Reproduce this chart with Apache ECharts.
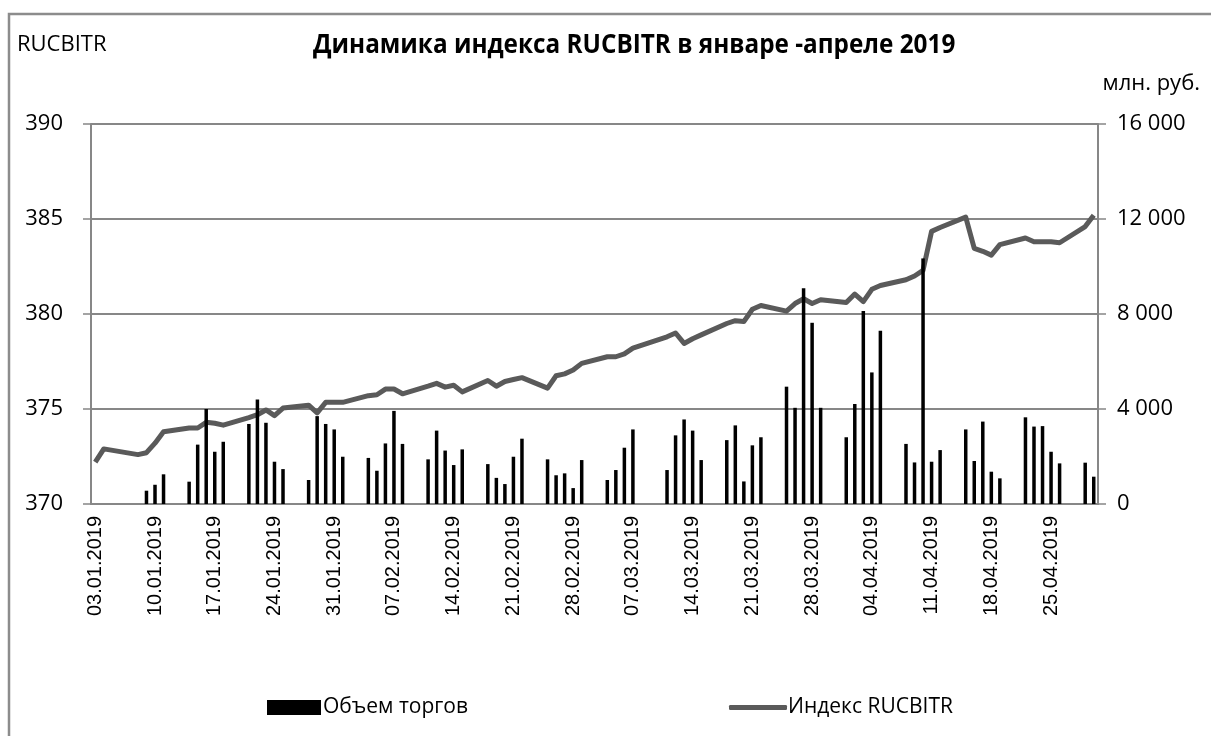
<!DOCTYPE html>
<html>
<head>
<meta charset="utf-8">
<title>RUCBITR</title>
<script src="https://cdn.jsdelivr.net/npm/echarts@6/dist/echarts.min.js"></script>
<style>
  html, body { margin: 0; background: #fff; }
  #chart { width: 1211px; height: 736px; }
</style>
</head>
<body>
<div id="chart"></div>
<script>
  // trading days (dd.mm of 2019)
  const tradeDates = [
    '03.01', '04.01', '08.01', '09.01', '10.01', '11.01', '14.01', '15.01', '16.01', '17.01', '18.01',
    '21.01', '22.01', '23.01', '24.01', '25.01', '28.01', '29.01', '30.01', '31.01',
    '01.02', '04.02', '05.02', '06.02', '07.02', '08.02', '11.02', '12.02', '13.02', '14.02', '15.02',
    '18.02', '19.02', '20.02', '21.02', '22.02', '25.02', '26.02', '27.02', '28.02',
    '01.03', '04.03', '05.03', '06.03', '07.03', '11.03', '12.03', '13.03', '14.03', '15.03',
    '18.03', '19.03', '20.03', '21.03', '22.03', '25.03', '26.03', '27.03', '28.03', '29.03',
    '01.04', '02.04', '03.04', '04.04', '05.04', '08.04', '09.04', '10.04', '11.04', '12.04',
    '15.04', '16.04', '17.04', '18.04', '19.04', '22.04', '23.04', '24.04', '25.04', '26.04', '29.04', '30.04'
  ];

  // RUCBITR index, left axis
  const indexValues = [
    372.2, 372.9, 372.6, 372.7, 373.2, 373.8, 374.0, 374.0, 374.3, 374.25, 374.15,
    374.55, 374.7, 374.95, 374.65, 375.05, 375.2, 374.8, 375.35, 375.35,
    375.35, 375.7, 375.75, 376.05, 376.05, 375.8, 376.2, 376.35, 376.15, 376.25, 375.9,
    376.5, 376.2, 376.45, 376.55, 376.65, 376.1, 376.75, 376.85, 377.05,
    377.4, 377.75, 377.75, 377.9, 378.2, 378.8, 379.0, 378.45, 378.7, 378.9,
    379.5, 379.65, 379.6, 380.25, 380.45, 380.15, 380.55, 380.8, 380.55, 380.75,
    380.6, 381.05, 380.65, 381.3, 381.5, 381.8, 382.0, 382.3, 384.35, 384.55,
    385.1, 383.45, 383.3, 383.1, 383.65, 384.0, 383.8, 383.8, 383.8, 383.75, 384.6, 385.2
  ];

  // trading volume, mln rub, right axis
  const volumeValues = [
    null, null, null, 560, 810, 1250, 940, 2500, 4000, 2200, 2620,
    3370, 4400, 3420, 1780, 1470, 1010, 3700, 3370, 3140,
    1990, 1940, 1400, 2550, 3920, 2530, 1880, 3090, 2250, 1640, 2300,
    1680, 1100, 840, 1990, 2750, 1880, 1210, 1290, 670,
    1850, 1010, 1430, 2370, 3140, 1430, 2890, 3560, 3090, 1850,
    2690, 3310, 950, 2470, 2810, 4940, 4050, 9080, 7630, 4050,
    2810, 4210, 8130, 5540, 7300, 2530, 1750, 10340, 1780, 2270,
    3140, 1810, 3470, 1360, 1080, 3650, 3260, 3280, 2200, 1710, 1740, 1150
  ];

  const seriesNames = ['Объем торгов', 'Индекс RUCBITR'];

  // calendar axis: every day from 03.01.2019 to 30.04.2019
  const calendar = [];
  for (let d = new Date(Date.UTC(2019, 0, 3)); d <= new Date(Date.UTC(2019, 3, 30)); d.setUTCDate(d.getUTCDate() + 1)) {
    const dd = String(d.getUTCDate()).padStart(2, '0');
    const mm = String(d.getUTCMonth() + 1).padStart(2, '0');
    calendar.push(dd + '.' + mm + '.2019');
  }

  const byDay = (values) => calendar.map(day => {
    const i = tradeDates.indexOf(day.substring(0, 5));
    return i < 0 ? null : values[i];
  });

  const gray = '#878787';
  const lineGray = '#5a5a5a';
  const font = "'Open Sans', sans-serif";

  const chart = echarts.init(document.getElementById('chart'));
  chart.setOption({
    animation: false,
    backgroundColor: '#fff',
    grid: { left: 91, right: 113, top: 124, bottom: 232 },
    graphic: [
      {
        type: 'rect', silent: true,
        shape: { x: 9, y: 14, width: 1230, height: 740 },
        style: { fill: 'none', stroke: '#8c8c8c', lineWidth: 2.5 }
      },
      {
        type: 'text', x: 313, y: 45, scaleX: 0.9,
        style: {
          text: 'Динамика индекса RUCBITR в январе -апреле 2019',
          font: 'bold 27px ' + font, fill: '#000', verticalAlign: 'middle'
        }
      },
      {
        type: 'text', left: 17, top: 34,
        style: { text: 'RUCBITR', font: '22px ' + font, fill: '#000' }
      },
      {
        type: 'text', right: 11, top: 73,
        style: { text: 'млн. руб.', font: '22px ' + font, fill: '#000' }
      }
    ],
    legend: [
      {
        data: [seriesNames[0]], left: 262, top: 692, icon: 'rect',
        itemWidth: 54, itemHeight: 15, itemGap: 4,
        textStyle: { fontFamily: font, fontSize: 21, color: '#000', padding: [0, 0, 0, -3] }
      },
      {
        data: [{ name: seriesNames[1], icon: 'roundRect' }], left: 724, top: 692,
        itemWidth: 58, itemHeight: 5,
        itemStyle: { color: lineGray },
        textStyle: { fontFamily: font, fontSize: 21, color: '#000', padding: [0, 0, 0, -4] }
      }
    ],
    xAxis: {
      type: 'category',
      data: calendar,
      boundaryGap: true,
      axisLine: { lineStyle: { color: gray, width: 2 } },
      axisTick: { interval: 6, length: 6, lineStyle: { color: gray, width: 1.5 } },
      axisLabel: {
        interval: 6, rotate: 90, margin: 12,
        fontFamily: 'Liberation Sans, Arial, sans-serif', fontSize: 20, color: '#000'
      },
      splitLine: { show: false }
    },
    yAxis: [
      {
        type: 'value', min: 370, max: 390, interval: 5,
        axisLine: { show: true, lineStyle: { color: gray, width: 2 } },
        axisTick: { show: true, length: 8, lineStyle: { color: gray, width: 1.5 } },
        axisLabel: { margin: 28, fontFamily: font, fontSize: 22, color: '#000' },
        splitLine: { lineStyle: { color: gray, width: 2 } }
      },
      {
        type: 'value', min: 0, max: 16000, interval: 4000,
        axisLine: { show: true, lineStyle: { color: gray, width: 2 } },
        axisTick: { show: true, length: 8, lineStyle: { color: gray, width: 1.5 } },
        axisLabel: {
          margin: 19, fontFamily: font, fontSize: 22, color: '#000',
          formatter: v => String(v).replace(/\B(?=(\d{3})+(?!\d))/g, ' ')
        },
        splitLine: { show: false }
      }
    ],
    series: [
      {
        name: seriesNames[1],
        type: 'line',
        yAxisIndex: 0,
        data: byDay(indexValues),
        connectNulls: true,
        symbol: 'none',
        lineStyle: { color: lineGray, width: 5, join: 'round' },
        itemStyle: { color: lineGray },
        z: 2
      },
      {
        name: seriesNames[0],
        type: 'bar',
        yAxisIndex: 1,
        data: byDay(volumeValues),
        barWidth: 3.5,
        itemStyle: { color: '#000' },
        z: 3
      }
    ]
  });
</script>
</body>
</html>
